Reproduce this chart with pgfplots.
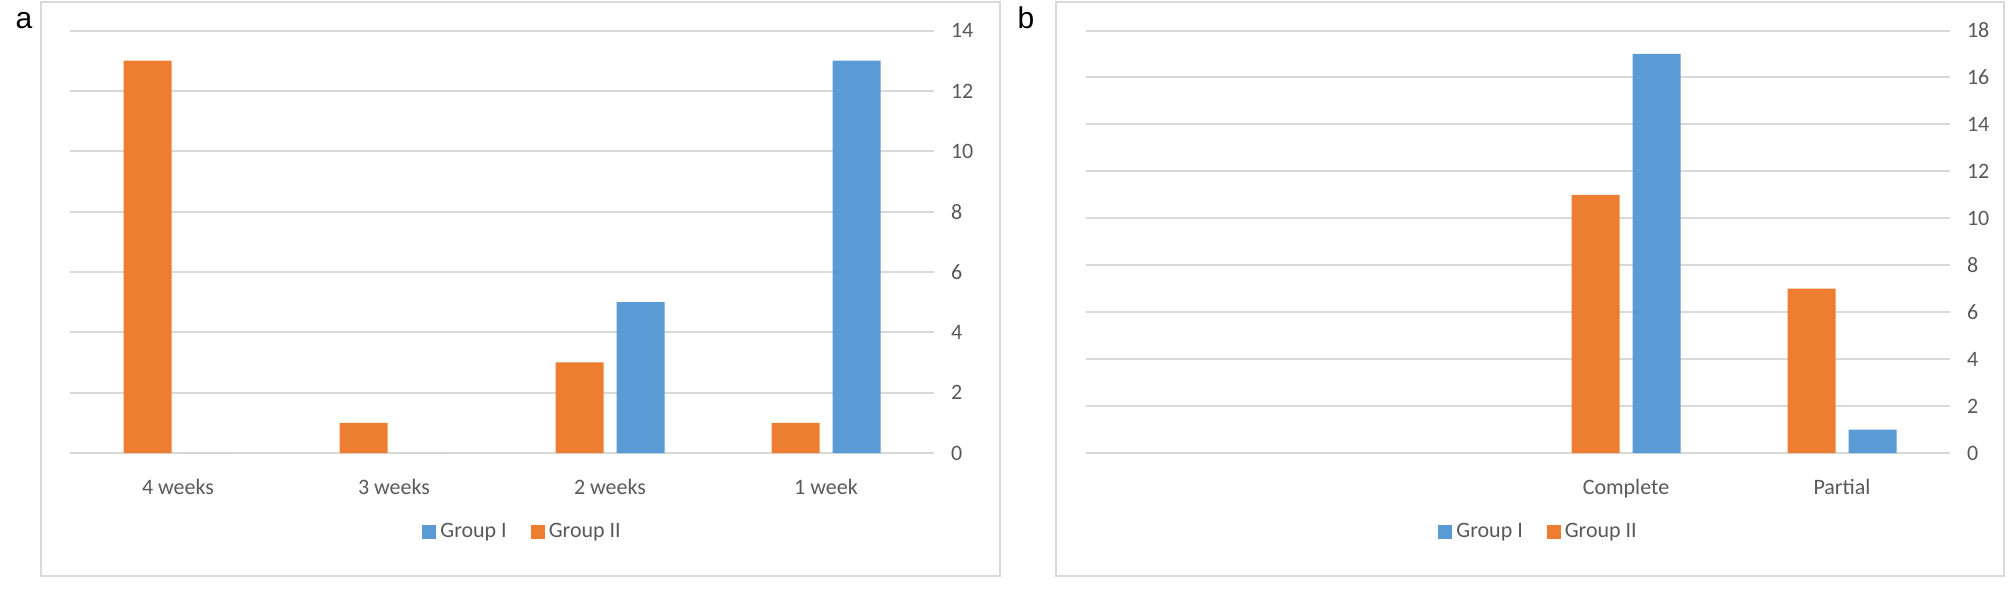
\documentclass[border=0pt]{standalone}
\usepackage{fontspec}
\setmainfont{Carlito}
\newfontfamily\panelfont{Liberation Sans}
\usepackage{pgfplots}
\pgfplotsset{compat=1.18}

\definecolor{gblue}{HTML}{5B9BD5}
\definecolor{gorange}{HTML}{ED7D31}
\definecolor{gridgray}{HTML}{D9D9D9}
\definecolor{txtgray}{HTML}{595959}

% 1 px of the reference = 0.5pt
\pgfplotsset{
  excel/.style={
    scale only axis, width=432pt, height=211.25pt,
    xmin=-0.5, xmax=3.5, ymin=0,
    axis line style={draw=none}, tick style={draw=none},
    ymajorgrids, grid style={gridgray, line width=1pt},
    yticklabel pos=right,
    ybar, bar width=24pt,
    /pgf/number format/assume math mode=true,
    tick label style={font=\fontsize{11}{13}\selectfont, text=txtgray},
    yticklabel style={xshift=5pt},
    xticklabel style={yshift=-5.5pt},
    legend style={draw=none, fill=none, legend columns=2,
      font=\fontsize{11}{13}\selectfont, text=txtgray,
      at={(0.525,-0.187)}, anchor=center,
      /tikz/every even column/.append style={column sep=10pt}},
    legend image code/.code={\fill[##1] (0pt,-3.5pt) rectangle (7pt,3.5pt);},
  },
}

\begin{document}
\begin{tikzpicture}
\useasboundingbox (0,0) rectangle (1004pt,295.5pt);
\draw[gridgray, line width=1pt] (20.5pt,7.5pt) rectangle (500pt,294.5pt);
\draw[gridgray, line width=1pt] (528pt,7.5pt) rectangle (1002pt,294.5pt);
\node[font=\panelfont\fontsize{15}{18}\selectfont, anchor=base] at (12pt,281.5pt) {a};
\node[font=\panelfont\fontsize{15}{18}\selectfont, anchor=base] at (513pt,281.5pt) {b};

\begin{axis}[excel, at={(35pt,69pt)}, anchor=south west,
    ymax=14, ytick={0,2,...,14},
    xtick={0,1,2,3}, xticklabels={4 weeks,3 weeks,2 weeks,1 week}]
\addplot[fill=gblue, draw=none, bar shift=15.25pt]
  coordinates {(0,0) (1,0) (2,5) (3,13)};
\addlegendentry{Group I}
\addplot[fill=gorange, draw=none, bar shift=-15.25pt]
  coordinates {(0,13) (1,1) (2,3) (3,1)};
\addlegendentry{Group II}
\end{axis}

\begin{axis}[excel, at={(543pt,69pt)}, anchor=south west,
    ymax=18, ytick={0,2,...,18},
    xtick={2,3}, xticklabels={Complete,Partial}]
\addplot[fill=gblue, draw=none, bar shift=15.25pt]
  coordinates {(2,17) (3,1)};
\addlegendentry{Group I}
\addplot[fill=gorange, draw=none, bar shift=-15.25pt]
  coordinates {(2,11) (3,7)};
\addlegendentry{Group II}
\end{axis}
\end{tikzpicture}
\end{document}
